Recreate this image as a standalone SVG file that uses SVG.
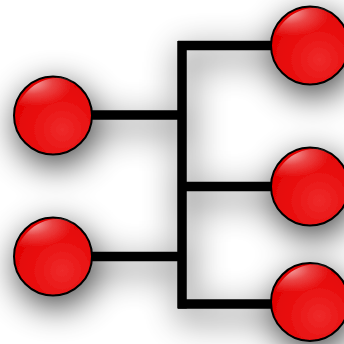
<svg xmlns="http://www.w3.org/2000/svg" width="344" height="344" viewBox="0 0 344 344">
  <defs>
    <radialGradient id="ball" cx="0.62" cy="0.68" r="0.7">
      <stop offset="0" stop-color="#ee2a2a"/>
      <stop offset="0.6" stop-color="#e80d0d"/>
      <stop offset="1" stop-color="#e00000"/>
    </radialGradient>
    <radialGradient id="gloss" cx="0.2" cy="0.12" r="0.6">
      <stop offset="0" stop-color="#ffffff" stop-opacity="0.7"/>
      <stop offset="0.5" stop-color="#ffffff" stop-opacity="0.25"/>
      <stop offset="1" stop-color="#ffffff" stop-opacity="0"/>
    </radialGradient>
    <filter id="shadow" x="-40%" y="-40%" width="180%" height="180%">
      <feGaussianBlur in="SourceAlpha" stdDeviation="17"/>
      <feOffset dx="3" dy="10" result="b"/>
      <feComponentTransfer><feFuncA type="linear" slope="0.75"/></feComponentTransfer>
      <feMerge><feMergeNode/><feMergeNode in="SourceGraphic"/></feMerge>
    </filter>
    <g id="sphere">
      <circle r="39" fill="url(#ball)" stroke="#000" stroke-width="2"/>
      <path d="M-38,2 C-34,-24 -14,-38 8,-38 C22,-37 32,-28 37,-16 C14,-16 -10,-10 -38,2 Z" fill="url(#gloss)"/>
    </g>
  </defs>
  <rect width="344" height="344" fill="#ffffff"/>
  <g filter="url(#shadow)">
    <g id="connectors" fill="none" stroke="#000" stroke-width="9.5">
      <path d="M92,115 H182"/>
      <path d="M92,256.5 H182"/>
      <path d="M182,41 V308.5"/>
      <path d="M178,45.5 H272"/>
      <path d="M182,186.5 H272"/>
      <path d="M178,304 H272"/>
    </g>
    <g id="node-left-1"><use href="#sphere" x="53" y="115.5"/></g>
    <g id="node-left-2"><use href="#sphere" x="53" y="256.5"/></g>
    <g id="node-right-1"><use href="#sphere" x="310" y="45.5"/></g>
    <g id="node-right-2"><use href="#sphere" x="310" y="186.5"/></g>
    <g id="node-right-3"><use href="#sphere" x="310" y="302"/></g>
  </g>
</svg>
